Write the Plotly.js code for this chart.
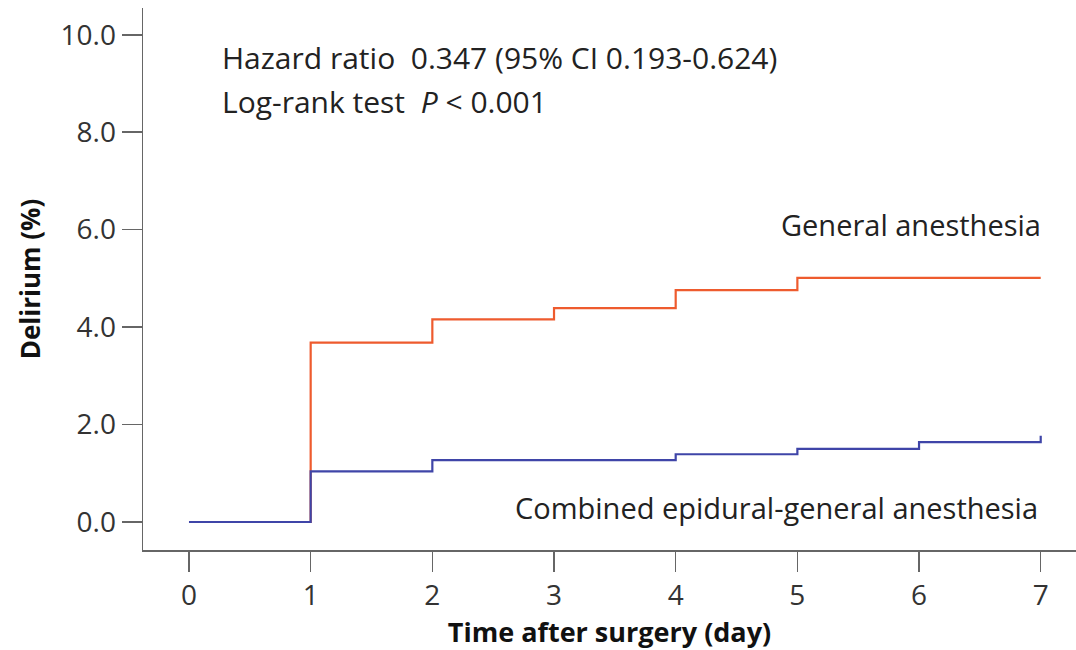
<!DOCTYPE html>
<html>
<head>
<meta charset="utf-8">
<script src="https://cdn.plot.ly/plotly-3.0.1.min.js"></script>
<style>html,body{margin:0;padding:0;background:#fff;}#chart{width:1076px;height:650px;}</style>
</head>
<body>
<div id="chart"></div>
<script>
// Data
const daysGeneral = [0, 1, 2, 3, 4, 5, 7];
const deliriumGeneral = [0, 3.68, 4.16, 4.39, 4.76, 5.01, 5.01];
const daysCombined = [0, 1, 2, 4, 5, 6, 7];
const deliriumCombined = [0, 1.04, 1.27, 1.39, 1.50, 1.64, 1.77];
const xTicks = [0, 1, 2, 3, 4, 5, 6, 7];
const yTicks = [0, 2, 4, 6, 8, 10];
const yTickText = ["0.0", "2.0", "4.0", "6.0", "8.0", "10.0"];

const FONT = "'Open Sans', Lato, sans-serif";

const traces = [
  {x: daysGeneral, y: deliriumGeneral, type: 'scatter', mode: 'lines',
   line: {shape: 'hv', color: '#EE5B2E', width: 2.2}, name: 'General anesthesia'},
  {x: daysCombined, y: deliriumCombined, type: 'scatter', mode: 'lines',
   line: {shape: 'hv', color: '#3F45A8', width: 2.2}, name: 'Combined epidural-general anesthesia'}
];

const axisCommon = {
  showgrid: false, zeroline: false, showline: true, linecolor: '#666', linewidth: 1.5,
  ticks: 'outside', ticklen: 20, tickwidth: 1.5, tickcolor: '#666',
  tickfont: {family: FONT, size: 28, color: '#333'}
};

const layout = {
  width: 1076, height: 650,
  margin: {l: 143, r: 0, t: 8, b: 100},
  paper_bgcolor: '#fff', plot_bgcolor: '#fff',
  showlegend: false,
  font: {family: FONT, color: '#222'},
  xaxis: Object.assign({}, axisCommon, {
    range: [-0.378, 7.29], tickvals: xTicks, ticktext: xTicks.map(String),
    title: {text: 'Time after surgery (day)', font: {family: FONT, size: 27, color: '#111', weight: 'bold'}, standoff: 4}
  }),
  yaxis: Object.assign({}, axisCommon, {
    range: [-0.575, 10.55], tickvals: yTicks, ticktext: yTickText,
    title: {text: 'Delirium (%)', font: {family: FONT, size: 26, color: '#111', weight: 'bold'}, standoff: 12}
  }),
  annotations: [
    {xref: 'paper', yref: 'paper', x: 0.0825, y: 0.908, xanchor: 'left', yanchor: 'middle', showarrow: false,
     text: 'Hazard ratio  0.347 (95% CI 0.193-0.624)', font: {family: FONT, size: 30, color: '#222'}},
    {xref: 'paper', yref: 'paper', x: 0.0825, y: 0.827, xanchor: 'left', yanchor: 'middle', showarrow: false,
     text: 'Log-rank test  <i>P</i> &lt; 0.001', font: {family: FONT, size: 30, color: '#222'}},
    {xref: 'paper', yref: 'paper', x: 0.965, y: 0.600, xanchor: 'right', yanchor: 'middle', showarrow: false,
     text: 'General anesthesia', font: {family: FONT, size: 29, color: '#222'}},
    {xref: 'paper', yref: 'paper', x: 0.961, y: 0.079, xanchor: 'right', yanchor: 'middle', showarrow: false,
     text: 'Combined epidural-general anesthesia', font: {family: FONT, size: 29, color: '#222'}}
  ]
};

Plotly.newPlot('chart', traces, layout, {displayModeBar: false, staticPlot: true});
</script>
</body>
</html>
